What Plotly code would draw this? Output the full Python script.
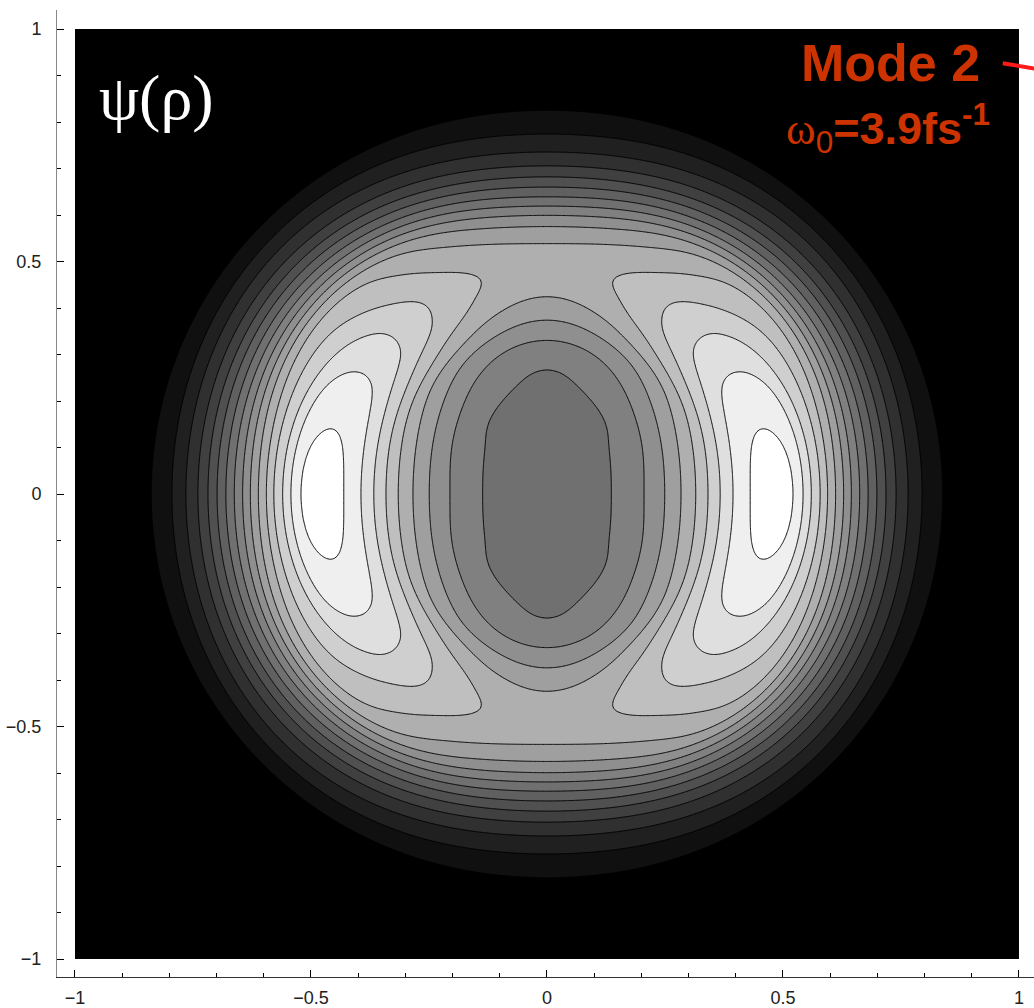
import numpy as np
import plotly.graph_objects as go

# Contour levels of psi(rho) (16 equally spaced levels, in level units)
levels_start, levels_end, levels_step = 1, 16, 1

# Radial profiles: radius where each level is crossed
# along the x axis (theta = 0 deg)
r_x = [0.0, 0.138, 0.206, 0.250, 0.284, 0.316, 0.341, 0.367, 0.394, 0.428, 0.478,
       0.528, 0.542, 0.559, 0.581, 0.593, 0.612, 0.629, 0.644, 0.663, 0.680, 0.699,
       0.718, 0.739, 0.765, 0.794, 0.837, 0.95]
v_x = [7.5, 8, 9, 10, 11, 12, 13, 14, 15, 16, 16.42,
       16, 15, 14, 13, 12, 11, 10, 9, 8, 7, 6,
       5, 4, 3, 2, 1, 0]
# along the diagonal (theta = 45 deg)
r_d = [0.0, 0.185, 0.257, 0.302, 0.340, 0.362, 0.392, 0.435, 0.462, 0.490, 0.550,
       0.605, 0.625, 0.640, 0.655, 0.670, 0.687, 0.705, 0.724, 0.745, 0.773, 0.802,
       0.834, 0.95]
v_d = [7.5, 8, 9, 10, 11, 12, 13, 14, 14.1, 14, 13,
       12, 11, 10, 9, 8, 7, 6, 5, 4, 3, 2,
       1, 0]
# along the y axis (theta = 90 deg)
r_y = [0.0, 0.271, 0.331, 0.374, 0.424, 0.482, 0.540, 0.576, 0.600, 0.619, 0.639,
       0.660, 0.682, 0.705, 0.735, 0.774, 0.824, 0.95]
v_y = [7.5, 8, 9, 10, 11, 11.6, 11, 10, 9, 8, 7,
       6, 5, 4, 3, 2, 1, 0]

x_ticks = [-1, -0.5, 0, 0.5, 1]
y_ticks = [-1, -0.5, 0, 0.5, 1]
tick_text = ['\u22121', '\u22120.5', '0', '0.5', '1']


def pchip(xk, yk, x):
    """Monotone piecewise-cubic curve through the measured profile points."""
    xk = np.asarray(xk, float)
    yk = np.asarray(yk, float)
    h = np.diff(xk)
    d = np.diff(yk) / h
    m = np.zeros_like(yk)
    for k in range(1, len(xk) - 1):
        if d[k - 1] * d[k] > 0:
            w1 = 2 * h[k] + h[k - 1]
            w2 = h[k] + 2 * h[k - 1]
            m[k] = (w1 + w2) / (w1 / d[k - 1] + w2 / d[k])
    m[0] = 0.0
    m[-1] = d[-1]
    x = np.clip(x, xk[0], xk[-1])
    i = np.clip(np.searchsorted(xk, x) - 1, 0, len(xk) - 2)
    t = (x - xk[i]) / h[i]
    h00 = 2 * t**3 - 3 * t**2 + 1
    h10 = t**3 - 2 * t**2 + t
    h01 = -2 * t**3 + 3 * t**2
    h11 = t**3 - t**2
    return h00 * yk[i] + h10 * h[i] * m[i] + h01 * yk[i + 1] + h11 * h[i] * m[i + 1]


def blur(Z, sigma_pts):
    rad = int(3 * sigma_pts) + 1
    k = np.exp(-0.5 * (np.arange(-rad, rad + 1) / sigma_pts) ** 2)
    k /= k.sum()
    P = np.pad(Z, rad, mode='edge')
    P = np.apply_along_axis(lambda v: np.convolve(v, k, mode='same'), 0, P)
    P = np.apply_along_axis(lambda v: np.convolve(v, k, mode='same'), 1, P)
    return P[rad:-rad, rad:-rad]


# ---- build the field on a grid from the measured profiles ----
n = 361
xs = np.linspace(-1, 1, n)
ys = np.linspace(-1, 1, n)
X, Y = np.meshgrid(xs, ys)
R = np.hypot(X, Y)
T = np.arctan2(Y, X)
f0 = pchip(r_x, v_x, R)
f45 = pchip(r_d, v_d, R)
f90 = pchip(r_y, v_y, R)
A = (f0 + f90 + 2 * f45) / 4
B = (f0 - f90) / 2
C = (f0 + f90 - 2 * f45) / 4
Z = blur(A + B * np.cos(2 * T) + C * np.cos(4 * T), 2.0)

fig = go.Figure()
fig.add_trace(go.Contour(
    x=xs, y=ys, z=Z,
    contours=dict(start=levels_start, end=levels_end, size=levels_step,
                  coloring='fill', showlines=True),
    colorscale=[[0, 'black'], [1, 'white']],
    line=dict(color='black', width=1, smoothing=0),
    showscale=False, hoverinfo='skip'))

tickfont = dict(family='Liberation Sans, Arial, sans-serif', size=18, color='#222')
XR = [-1.0381, 1.0318]
YR = [-1.0387, 1.0409]

fig.update_layout(
    width=1034, height=1008,
    margin=dict(l=57, r=0, t=10, b=31),
    paper_bgcolor='white', plot_bgcolor='white',
    showlegend=False,
    xaxis=dict(range=XR, tickvals=x_ticks, ticktext=tick_text,
               ticks='inside', ticklen=7, tickcolor='black', tickwidth=1,
               showline=True, linecolor='#333', linewidth=1,
               showgrid=False, zeroline=False, tickfont=tickfont,
               ticklabelstandoff=4,
               minor=dict(dtick=0.1, tick0=0, ticks='inside', ticklen=4,
                          tickcolor='black', showgrid=False)),
    yaxis=dict(range=YR, tickvals=y_ticks, ticktext=tick_text,
               ticks='inside', ticklen=7, tickcolor='black', tickwidth=1,
               showline=True, linecolor='#888', linewidth=1,
               showgrid=False, zeroline=False, tickfont=tickfont,
               ticklabelstandoff=11,
               minor=dict(dtick=0.1, tick0=0, ticks='inside', ticklen=4,
                          tickcolor='black', showgrid=False)),
    xaxis2=dict(range=XR, overlaying='x', side='top', anchor='y', tickvals=x_ticks,
                showticklabels=False, ticks='inside', ticklen=7, tickcolor='black',
                showline=True, linecolor='#888', linewidth=1, showgrid=False, zeroline=False,
                minor=dict(dtick=0.1, tick0=0, ticks='inside', ticklen=4,
                           tickcolor='black', showgrid=False)),
    yaxis2=dict(range=YR, overlaying='y', side='right', anchor='x', tickvals=y_ticks,
                showticklabels=False, ticks='inside', ticklen=4, tickcolor='black',
                showline=False, showgrid=False, zeroline=False),
)

fig.add_annotation(x=-0.953, y=0.853, xref='x', yref='y', xanchor='left', yanchor='middle',
                   text='\u03c8(\u03c1)', showarrow=False,
                   font=dict(family='Liberation Serif, Times New Roman, serif', size=64, color='white'))
fig.add_annotation(x=0.727, y=0.927, xref='x', yref='y', xanchor='center', yanchor='middle',
                   text='<b>Mode 2</b>', showarrow=False,
                   font=dict(family='Liberation Sans, Arial, sans-serif', size=52, color='#cc3300'))
fig.add_annotation(x=0.722, y=0.787, xref='x', yref='y', xanchor='center', yanchor='middle',
                   text='<span style="font-family:Liberation Serif">\u03c9</span><sub>0</sub>'
                        '<b>=3.9fs<sup>-1</sup></b>',
                   showarrow=False,
                   font=dict(family='Liberation Sans, Arial, sans-serif', size=45, color='#cc3300'))
fig.add_shape(type='line', xref='paper', yref='paper', x0=0.968, y0=0.945, x1=1.02, y1=0.936,
              line=dict(color='#ff1a1a', width=4))

fig.write_html('out.html')
